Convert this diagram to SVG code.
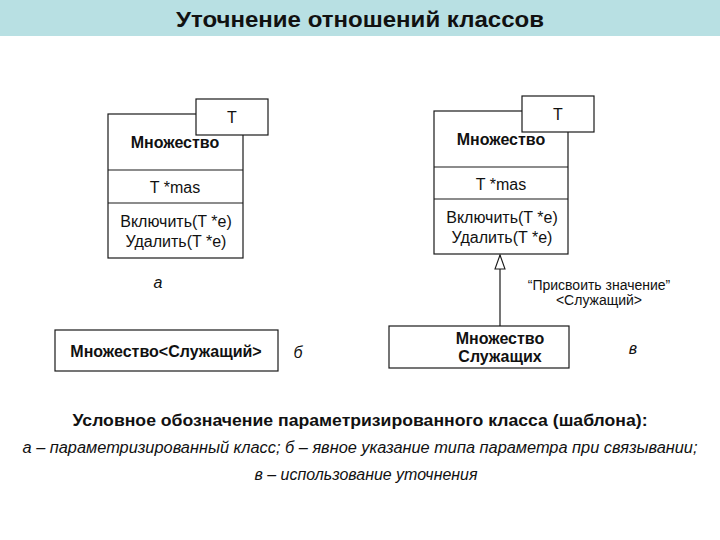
<svg xmlns="http://www.w3.org/2000/svg" width="720" height="540" viewBox="0 0 720 540">
<style>
.box{fill:#fff;stroke:#1a1a1a;stroke-width:1.2}
.ln{stroke:#1a1a1a;stroke-width:1.2;fill:none}
.t{font-family:"Liberation Sans",Arial,sans-serif;font-size:16px;fill:#111;text-anchor:middle}
.b{font-family:"Liberation Sans",Arial,sans-serif;font-size:16px;font-weight:bold;fill:#111;text-anchor:middle}
.s{font-family:"Liberation Sans",Arial,sans-serif;font-size:14px;fill:#111;text-anchor:middle}
.i{font-family:"Liberation Sans",Arial,sans-serif;font-size:16px;font-style:italic;fill:#111;text-anchor:middle}
.n{font-family:"Liberation Sans Narrow","Liberation Sans",Arial,sans-serif;fill:#111;text-anchor:middle}
</style>
<defs>
<marker id="gen" viewBox="0 0 16 12" refX="15" refY="6" markerWidth="16" markerHeight="12" markerUnits="userSpaceOnUse" orient="auto">
<path d="M15,6 L1,11 L1,1 Z" fill="#fff" stroke="#1a1a1a" stroke-width="1.1"/>
</marker>
</defs>
<rect x="0" y="0" width="720" height="36" fill="#b8e0e3"/>
<text class="n" x="360" y="27" font-size="22" font-weight="bold" textLength="368" lengthAdjust="spacingAndGlyphs">Уточнение отношений классов</text>

<g id="classA">
<rect class="box" x="108" y="114" width="135" height="144"/>
<line class="ln" x1="108" y1="170" x2="243" y2="170"/>
<line class="ln" x1="108" y1="203" x2="243" y2="203"/>
<text class="b" x="175" y="148">Множество</text>
<text class="t" x="175" y="193">T *mas</text>
<text class="t" x="176" y="227">Включить(T *e)</text>
<text class="t" x="176" y="247">Удалить(T *e)</text>
<rect class="box" x="196" y="99" width="72" height="36"/>
<text class="t" x="232" y="123">T</text>
</g>
<text class="i" x="158" y="288">а</text>

<g id="classB">
<rect class="box" x="55" y="330" width="223" height="41"/>
<text class="b" x="166" y="357">Множество&lt;Служащий&gt;</text>
</g>
<text class="i" x="298" y="358">б</text>

<g id="classC">
<rect class="box" x="434" y="111" width="134" height="143"/>
<line class="ln" x1="434" y1="167" x2="568" y2="167"/>
<line class="ln" x1="434" y1="199" x2="568" y2="199"/>
<text class="b" x="501" y="145">Множество</text>
<text class="t" x="501" y="190">T *mas</text>
<text class="t" x="502" y="223">Включить(T *e)</text>
<text class="t" x="502" y="243">Удалить(T *e)</text>
<rect class="box" x="522" y="96" width="72" height="36"/>
<text class="t" x="558" y="120">T</text>
</g>

<g id="classD">
<rect class="box" x="389" y="326" width="180" height="42"/>
<text class="b" x="500" y="344">Множество</text>
<text class="b" x="500" y="362">Служащих</text>
</g>
<text class="i" x="633" y="354">в</text>

<g id="connectors">
<line class="ln" x1="500" y1="326" x2="500" y2="255" marker-end="url(#gen)"/>
</g>
<text class="s" x="599" y="290">“Присвоить значение”</text>
<text class="s" x="599" y="305">&lt;Служащий&gt;</text>

<text class="n" x="360" y="426" font-size="17" font-weight="bold" textLength="575" lengthAdjust="spacingAndGlyphs">Условное обозначение параметризированного класса (шаблона):</text>
<text class="n" x="360" y="453" font-size="16" font-style="italic" textLength="675" lengthAdjust="spacingAndGlyphs">а – параметризированный класс; б – явное указание типа параметра при связывании;</text>
<text class="n" x="366" y="480" font-size="16" font-style="italic" textLength="223" lengthAdjust="spacingAndGlyphs">в – использование уточнения</text>
</svg>
